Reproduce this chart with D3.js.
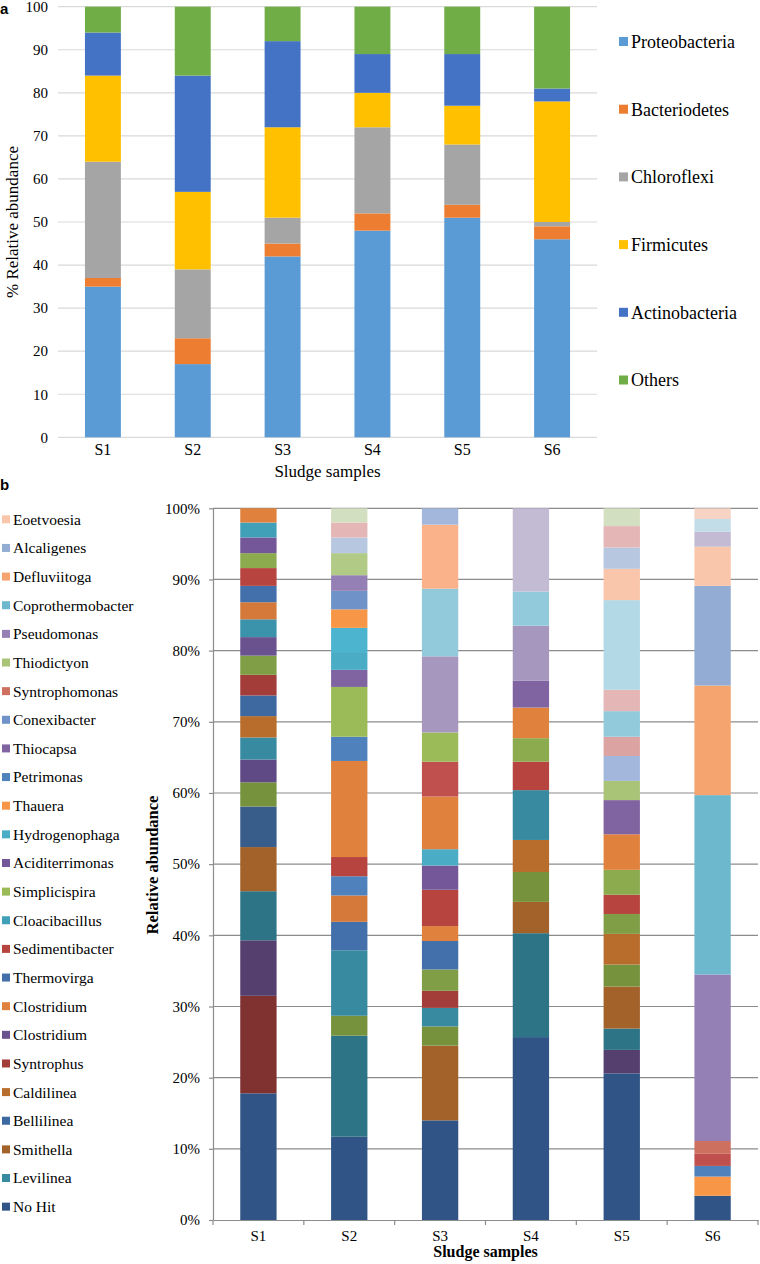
<!DOCTYPE html>
<html><head><meta charset="utf-8">
<script src="https://cdn.jsdelivr.net/npm/d3@7"></script>
<style>
body{margin:0;background:#fff;}
svg{display:block;}
</style></head><body>
<svg id="chart" width="760" height="1264"></svg>
<script>
// ---------- Panel a data ----------
const samplesA = ["S1","S2","S3","S4","S5","S6"];
const phyla = ["Proteobacteria","Bacteriodetes","Chloroflexi","Firmicutes","Actinobacteria","Others"];
const proteobacteria = [35,17,42,48,51,46];
const bacteriodetes  = [2,6,3,4,3,3];
const chloroflexi    = [27,16,6,20,14,1];
const firmicutes     = [20,18,21,8,9,28];
const actinobacteria = [10,27,20,9,12,3];
const others         = [6,16,8,11,11,19];
const ticksA = [0,10,20,30,40,50,60,70,80,90,100];

// ---------- Panel b data ----------
const samplesB = ["S1","S2","S3","S4","S5","S6"];
const genera = ["No Hit","Levilinea","Smithella","Bellilinea","Caldilinea","Syntrophus","Clostridium","Clostridium","Thermovirga","Sedimentibacter","Cloacibacillus","Simplicispira","Aciditerrimonas","Hydrogenophaga","Thauera","Petrimonas","Thiocapsa","Conexibacter","Syntrophomonas","Thiodictyon","Pseudomonas","Coprothermobacter","Defluviitoga","Alcaligenes","Eoetvoesia"];
const generaShade = ["b0","a1","o0","b2","o1","r2","p2","o3","b3","r3","a3","g4","p3","a4","o4","b4","p4","b5","r5","g5","p5","a5","o5","b6","o7"];
const ticksB = [0,10,20,30,40,50,60,70,80,90,100];

// segment values (%) stacked bottom -> top, with their series shade key
const s1Values = [17.8,13.7,7.8,6.9,6.2,5.7,3.4,3.2,3.1,3.0,2.9,2.9,2.7,2.6,2.5,2.4,2.3,2.5,2.1,2.2,2.1,2.0];
const s1Shades = ["b0","r0","p0","a0","o0","b1","g1","p1","a1","o1","b2","r2","g2","p2","a2","o2","b3","r3","g3","p3","a3","o3"];
const s2Values = [11.7,14.2,2.8,9.2,4.0,3.7,2.7,2.7,13.5,3.4,7.0,2.4,2.5,3.4,2.6,2.6,2.2,3.1,2.2,2.1,2.0];
const s2Shades = ["b0","a0","g1","a1","b3","o2","b4","r3","o3","b4","g4","p4","a4","a4x","o4","b5","p5","g6","b8","r7","g7"];
const s3Values = [14.0,10.5,2.7,2.6,2.4,3.0,4.0,2.1,5.1,3.4,2.3,7.4,4.9,4.1,10.7,9.5,9.0,2.3];
const s3Shades = ["b0","o0","g1","a1","r2","g2","b3","o3","r3","p3","a4","o3","r4","g4","p6","a6","o6","b7"];
const s4Values = [25.7,14.6,4.4,4.2,4.5,7.0,4.0,3.3,4.3,3.8,7.7,4.8,11.7];
const s4Shades = ["b0","a0","o0","g1","o1","a1","r3","g3","o3","p4","p6","a6","p7"];
const s5Values = [20.6,3.3,3.0,5.9,3.1,4.3,2.8,2.7,3.5,5.0,4.8,2.7,3.5,2.7,3.6,3.0,12.6,4.4,3.0,3.0,2.5];
const s5Shades = ["b0","p0","a0","o0","g1","o1","g2","r3","g3","o3","p4","g5","b7","r6","a6","r7","a7","o7","b8","r7","g7"];
const s6Values = [3.4,2.7,1.5,1.7,1.8,23.4,25.2,15.4,14.0,5.5,2.1,1.8,1.5];
const s6Shades = ["b0","o4","b4","r4","r5","p5","a5","o5","b6","o7","p7","a8","o8"];

// ---------- styles ----------
const SERIF = "'Liberation Serif', 'Times New Roman', serif";
const SANS = "'Liberation Sans', Arial, sans-serif";
const phylaColors = ["#5B9BD5","#ED7D31","#A5A5A5","#FFC000","#4472C4","#70AD47"];
const shadeKeys   = ["b0","b1","b2","b3","b4","b5","b6","b7","b8",
                     "r0","r2","r3","r4","r5","r6","r7",
                     "g1","g2","g3","g4","g5","g6","g7",
                     "p0","p1","p2","p3","p4","p5","p6","p7",
                     "a0","a1","a2","a3","a4","a4x","a5","a6","a7","a8",
                     "o0","o1","o2","o3","o4","o5","o6","o7","o8"];
const shadeColors = ["#2F5485","#385D8A","#3D68A0","#4370AB","#4F81BD","#6F93C9","#93ACD4","#A3B6DB","#B8C7E0",
                     "#7F3230","#A33D3A","#B8443F","#C0504D","#CD7060","#DBA4A3","#E4B6B5",
                     "#76923C","#7F9E45","#8CAA4E","#9BBB59","#A9C477","#B1CA85","#D3DFC1",
                     "#553F6E","#5F4A86","#6A528F","#735799","#8064A2","#9580B5","#A597BE","#C2BBD3",
                     "#2E7487","#378AA0","#3A93AB","#40A0B8","#4BACC6","#4DB4CF","#6DB8CD","#93CADB","#B3D8E6","#C3DDE8",
                     "#A3622A","#B96D2C","#D5793A","#E0823D","#F79646","#F6A46F","#F9B28A","#F9C6AC","#F6D3C3"];

const svg = d3.select("#chart");

// ================= Panel a =================
const colorA = d3.scaleOrdinal(phyla, phylaColors);
const valuesA = [proteobacteria,bacteriodetes,chloroflexi,firmicutes,actinobacteria,others];
const rowsA = samplesA.map((s,i)=>{const r={sample:s}; phyla.forEach((p,j)=>r[p]=valuesA[j][i]); return r;});
const stackA = d3.stack().keys(phyla)(rowsA);

const xA = d3.scaleBand().domain(samplesA).range([58,597]).paddingInner(0.6).paddingOuter(0.3);
const yA = d3.scaleLinear().domain([0,100]).range([437.3,6.7]);

const gA = svg.append("g");
gA.append("g").selectAll("line").data(ticksA).join("line")
  .attr("x1",58).attr("x2",597).attr("y1",d=>yA(d)).attr("y2",d=>yA(d))
  .attr("stroke","#D9D9D9").attr("stroke-width",1.2);

gA.append("g").selectAll("g").data(stackA).join("g")
  .attr("fill",d=>colorA(d.key))
  .selectAll("rect").data(d=>d).join("rect")
  .attr("x",d=>xA(d.data.sample)).attr("width",xA.bandwidth())
  .attr("y",d=>yA(d[1])).attr("height",d=>yA(d[0])-yA(d[1]));

const yAxisA = gA.append("g").attr("transform","translate(58,0)")
  .call(d3.axisLeft(yA).tickValues(ticksA).tickSize(0).tickPadding(10));
yAxisA.select(".domain").remove();
yAxisA.selectAll("text").style("font-size","15px");

const xAxisA = gA.append("g").attr("transform","translate(0,437.3)")
  .call(d3.axisBottom(xA).tickSize(0).tickPadding(6));
xAxisA.select(".domain").remove();
xAxisA.selectAll("text").style("font-size","16px");

gA.append("text").attr("x",327.5).attr("y",477).attr("text-anchor","middle")
  .style("font-size","17px").text("Sludge samples");
gA.append("text").attr("transform","translate(18,222) rotate(-90)").attr("text-anchor","middle")
  .style("font-size","17px").text("% Relative abundance");

const legA = gA.append("g").selectAll("g").data(phyla).join("g")
  .attr("transform",(d,i)=>`translate(619,${41.5+i*67.7})`);
legA.append("rect").attr("x",0).attr("y",-4.5).attr("width",9).attr("height",9).attr("fill",d=>colorA(d));
legA.append("text").attr("x",12).attr("dy","0.35em").style("font-size","18px").text(d=>d);

// ================= Panel b =================
const shade = d3.scaleOrdinal(shadeKeys, shadeColors);
const segValues = [s1Values,s2Values,s3Values,s4Values,s5Values,s6Values];
const segShades = [s1Shades,s2Shades,s3Shades,s4Shades,s5Shades,s6Shades];
const segments = samplesB.flatMap((s,i)=>{
  const cum = [0, ...d3.cumsum(segValues[i])];
  return segValues[i].map((v,j)=>({sample:s, y0:cum[j], y1:cum[j+1], key:segShades[i][j]}));
});

const xB = d3.scaleBand().domain(samplesB).range([213,758]).paddingInner(0.6).paddingOuter(0.3);
const yB = d3.scaleLinear().domain([0,100]).range([1220,508.3]);

const gB = svg.append("g");
gB.append("g").selectAll("line").data(ticksB.filter(d=>d>0)).join("line")
  .attr("x1",213).attr("x2",758).attr("y1",d=>yB(d)).attr("y2",d=>yB(d))
  .attr("stroke","#8C8C8C").attr("stroke-width",1.2);

gB.append("g").selectAll("rect").data(segments).join("rect")
  .attr("x",d=>xB(d.sample)).attr("width",xB.bandwidth())
  .attr("y",d=>yB(d.y1)).attr("height",d=>yB(d.y0)-yB(d.y1))
  .attr("fill",d=>shade(d.key));

const yAxisB = gB.append("g").attr("transform","translate(213,0)")
  .call(d3.axisLeft(yB).tickValues(ticksB).tickFormat(d=>d+"%").tickSize(4).tickSizeOuter(0).tickPadding(9));
yAxisB.selectAll("line,path").attr("stroke","#8C8C8C").attr("stroke-width",1.2);
yAxisB.selectAll("text").style("font-size","15px");

const xAxisB = gB.append("g").attr("transform","translate(0,1220)")
  .call(d3.axisBottom(xB).tickSize(0).tickSizeOuter(0).tickPadding(10));
xAxisB.select(".domain").attr("stroke","#8C8C8C").attr("stroke-width",1.2);
xAxisB.selectAll("text").style("font-size","15px");
// category boundary tick marks
const boundaryX = k => xB.range()[0] + k * (xB.range()[1]-xB.range()[0]) / samplesB.length;
gB.append("g").selectAll("line").data(d3.range(samplesB.length+1)).join("line")
  .attr("x1",boundaryX).attr("x2",boundaryX)
  .attr("y1",1220).attr("y2",1225).attr("stroke","#8C8C8C").attr("stroke-width",1.2);

gB.append("text").attr("x",485.5).attr("y",1257).attr("text-anchor","middle")
  .style("font-size","16px").style("font-weight","bold").text("Sludge samples");
gB.append("text").attr("transform","translate(158,865) rotate(-90)").attr("text-anchor","middle")
  .style("font-size","16.5px").style("font-weight","bold").text("Relative abundance");

const legendB = genera.map((g,i)=>({name:g, key:generaShade[i]})).reverse();
const legB = gB.append("g").selectAll("g").data(legendB).join("g")
  .attr("transform",(d,i)=>`translate(2,${519.3+i*28.64})`);
legB.append("rect").attr("x",0).attr("y",-4).attr("width",8).attr("height",8).attr("fill",d=>shade(d.key));
legB.append("text").attr("x",11).attr("dy","0.35em").style("font-size","15.5px").text(d=>d.name);

// all texts serif, black
svg.selectAll("text").style("font-family",SERIF).attr("fill","#000");

// panel letters (sans bold)
svg.append("text").attr("x",0).attr("y",14)
  .style("font-family",SANS).style("font-weight","bold").style("font-size","15px").attr("fill","#000").text("a");
svg.append("text").attr("x",0).attr("y",490)
  .style("font-family",SANS).style("font-weight","bold").style("font-size","15px").attr("fill","#000").text("b");
</script></body></html>
